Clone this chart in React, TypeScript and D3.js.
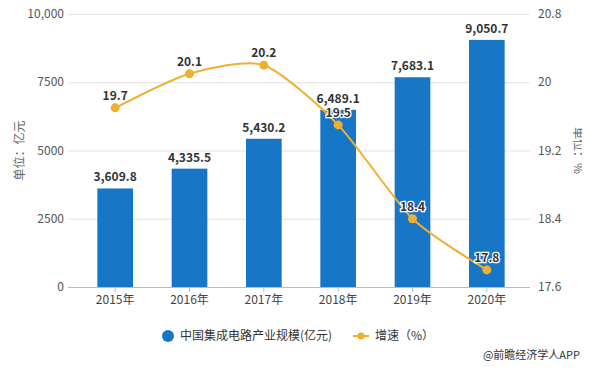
import React, { useEffect, useRef } from 'react';
import * as d3 from 'd3';

const years = ['2015年', '2016年', '2017年', '2018年', '2019年', '2020年'];
const scale = [3609.8, 4335.5, 5430.2, 6489.1, 7683.1, 9050.7];
const growth = [19.7, 20.1, 20.2, 19.5, 18.4, 17.8];
const leftTicks = [0, 2500, 5000, 7500, 10000];
const rightTicks = [17.6, 18.4, 19.2, 20, 20.8];

const BAR = '#1776c6';
const LINE = '#f0b02f';
const FONT = '"Noto Sans CJK SC", "Noto Sans", sans-serif';

export default function App() {
  const svgRef = useRef<SVGSVGElement>(null);

  useEffect(() => {
    if (!svgRef.current) return;
    const width = 590;
    const height = 370;
    const margin = { top: 14, right: 60, bottom: 83, left: 70 };

    const svg = d3.select(svgRef.current);
    svg.selectAll('*').remove();
    svg.attr('viewBox', `0 0 ${width} ${height}`).style('font-family', FONT);

    svg.append('rect').attr('width', width).attr('height', height).attr('fill', '#fff');

    const x0 = margin.left;
    const x1 = width - margin.right;
    const yBottom = height - margin.bottom;

    const x = d3.scaleBand().domain(years).range([78, 524]).paddingInner(0.52).paddingOuter(0.26);
    const y = d3.scaleLinear().domain([0, 10000]).range([yBottom, margin.top]);
    const y2 = d3.scaleLinear().domain([17.6, 20.8]).range([yBottom, margin.top]);
    const cx = (d: string) => (x(d) || 0) + x.bandwidth() / 2;

    // gridlines
    svg.append('g')
      .selectAll('line')
      .data(leftTicks.slice(1))
      .enter()
      .append('line')
      .attr('x1', x0 - 2)
      .attr('x2', x1)
      .attr('y1', d => y(d) + 0.5)
      .attr('y2', d => y(d) + 0.5)
      .attr('stroke', '#e3e3e3');

    // left tick labels
    svg.append('g')
      .selectAll('text')
      .data(leftTicks)
      .enter()
      .append('text')
      .attr('x', x0 - 6)
      .attr('y', d => y(d))
      .attr('dy', '0.35em')
      .attr('text-anchor', 'end')
      .attr('font-size', 12)
      .attr('fill', '#555')
      .text(d => (d === 10000 ? '10,000' : String(d)));

    // right tick labels
    svg.append('g')
      .selectAll('text')
      .data(rightTicks)
      .enter()
      .append('text')
      .attr('x', x1 + 8)
      .attr('y', d => y2(d))
      .attr('dy', '0.35em')
      .attr('font-size', 12)
      .attr('fill', '#555')
      .text(d => String(d));

    // bars
    svg.append('g')
      .selectAll('rect')
      .data(scale)
      .enter()
      .append('rect')
      .attr('x', (_, i) => x(years[i]) || 0)
      .attr('y', d => y(d))
      .attr('width', x.bandwidth())
      .attr('height', d => yBottom - y(d))
      .attr('fill', BAR);

    // x axis
    svg.append('line')
      .attr('x1', x0 - 2)
      .attr('x2', x1)
      .attr('y1', yBottom + 0.5)
      .attr('y2', yBottom + 0.5)
      .attr('stroke', '#bbb');

    svg.append('g')
      .selectAll('line')
      .data(years)
      .enter()
      .append('line')
      .attr('x1', d => cx(d))
      .attr('x2', d => cx(d))
      .attr('y1', yBottom)
      .attr('y2', yBottom + 5)
      .attr('stroke', '#bbb');

    svg.append('g')
      .selectAll('text')
      .data(years)
      .enter()
      .append('text')
      .attr('x', d => cx(d))
      .attr('y', yBottom + 17)
      .attr('text-anchor', 'middle')
      .attr('font-size', 12)
      .attr('fill', '#444')
      .text(d => d);

    // bar labels
    svg.append('g')
      .selectAll('text')
      .data(scale)
      .enter()
      .append('text')
      .attr('x', (_, i) => cx(years[i]))
      .attr('y', d => y(d) - 7)
      .attr('text-anchor', 'middle')
      .attr('font-size', 12)
      .attr('font-weight', 'bold')
      .attr('fill', '#333')
      .text(d => d3.format(',.1f')(d));

    // line
    const line = d3.line<number>()
      .x((_, i) => cx(years[i]))
      .y(d => y2(d))
      .curve(d3.curveCardinal.tension(0.3));

    svg.append('path')
      .datum(growth)
      .attr('d', line)
      .attr('fill', 'none')
      .attr('stroke', LINE)
      .attr('stroke-width', 2);

    svg.append('g')
      .selectAll('circle')
      .data(growth)
      .enter()
      .append('circle')
      .attr('cx', (_, i) => cx(years[i]))
      .attr('cy', d => y2(d))
      .attr('r', 4.5)
      .attr('fill', LINE);

    svg.append('g')
      .selectAll('text')
      .data(growth)
      .enter()
      .append('text')
      .attr('x', (_, i) => cx(years[i]))
      .attr('y', d => y2(d) - 8)
      .attr('text-anchor', 'middle')
      .attr('font-size', 12)
      .attr('font-weight', 'bold')
      .attr('fill', '#333')
      .attr('stroke', '#fff')
      .attr('stroke-width', 2.5)
      .attr('paint-order', 'stroke')
      .text(d => d.toFixed(1));

    // axis titles
    svg.append('text')
      .attr('transform', `translate(20,${(margin.top + yBottom) / 2}) rotate(-90)`)
      .attr('text-anchor', 'middle')
      .attr('dy', '0.35em')
      .attr('font-size', 12)
      .attr('fill', '#666')
      .text('单位：亿元');

    svg.append('text')
      .attr('transform', `translate(578,${(margin.top + yBottom) / 2}) rotate(90)`)
      .attr('text-anchor', 'middle')
      .attr('dy', '0.35em')
      .attr('font-size', 12)
      .attr('fill', '#666')
      .text('单位：%');

    // legend
    const lg = svg.append('g').attr('transform', 'translate(0,336)');
    lg.append('circle').attr('cx', 168).attr('cy', 0).attr('r', 6).attr('fill', BAR);
    lg.append('text')
      .attr('x', 180)
      .attr('dy', '0.35em')
      .attr('font-size', 12)
      .attr('fill', '#333')
      .text('中国集成电路产业规模(亿元)');
    lg.append('line')
      .attr('x1', 353)
      .attr('x2', 369)
      .attr('stroke', LINE)
      .attr('stroke-width', 2);
    lg.append('circle').attr('cx', 361).attr('cy', 0).attr('r', 3.5).attr('fill', LINE);
    lg.append('text')
      .attr('x', 375)
      .attr('dy', '0.35em')
      .attr('font-size', 12)
      .attr('fill', '#333')
      .text('增速（%）');

    // source
    svg.append('text')
      .attr('x', 580)
      .attr('y', 359)
      .attr('text-anchor', 'end')
      .attr('font-size', 11)
      .attr('fill', '#333')
      .text('@前瞻经济学人APP');
  }, []);

  return (
    <div style={{ width: 590, height: 370, margin: -8, overflow: 'hidden' }}>
      <svg ref={svgRef} width={590} height={370} style={{ display: 'block' }} />
    </div>
  );
}
